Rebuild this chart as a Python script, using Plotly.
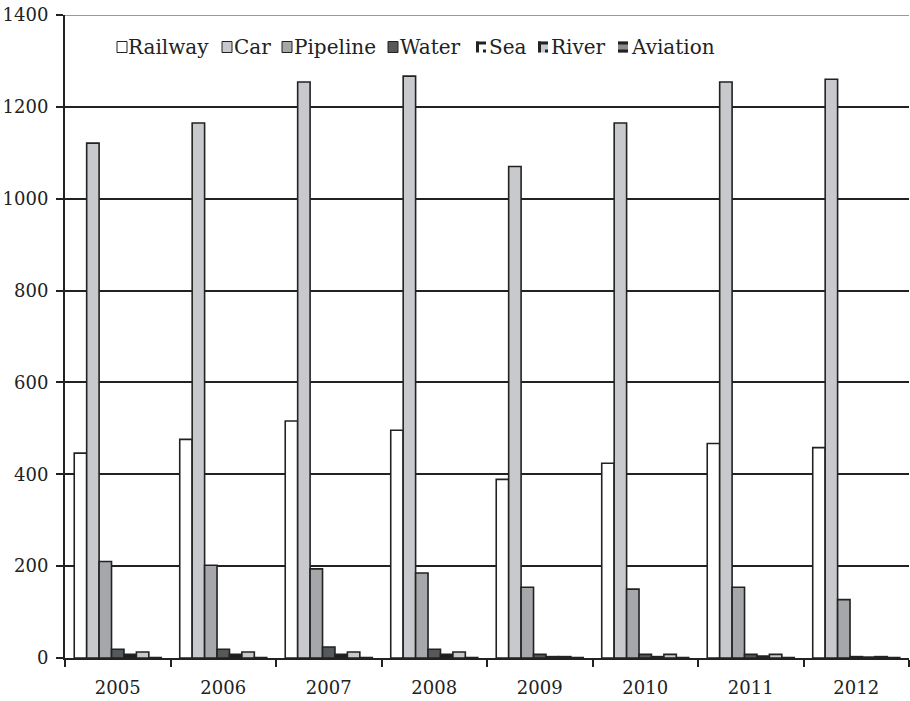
import plotly.graph_objects as go

# Freight turnover by mode of transport, 2005-2012
years = ["2005", "2006", "2007", "2008", "2009", "2010", "2011", "2012"]
railway = [446, 476, 516, 496, 389, 424, 467, 458]
car = [1121, 1165, 1254, 1267, 1070, 1165, 1254, 1260]
pipeline = [210, 202, 194, 185, 154, 150, 154, 127]
water = [19, 19, 24, 19, 8, 8, 8, 3]
sea = [8, 8, 8, 8, 3, 3, 4, 2]
river = [13, 13, 13, 13, 3, 8, 8, 3]
aviation = [1, 1, 1, 1, 1, 1, 1, 1]

series_names = ["Railway", "Car", "Pipeline", "Water", "Sea", "River", "Aviation"]
series_values = [railway, car, pipeline, water, sea, river, aviation]
fills = ["#ffffff", "#c8c9cd", "#a6a7ab", "#56595b", "#1e1e1e", "#c8c9cd", "#8c8d90"]

INK = "#222222"
FONT = "DejaVu Serif"

W, H = 910, 701
ML, MR, MT, MB = 65, 1, 15, 43
PW, PH = W - ML - MR, H - MT - MB


def px(x):
    return (x - ML) / PW


def py(y):
    return (H - MB - y) / PH


fig = go.Figure()
for name, vals, col in zip(series_names, series_values, fills):
    fig.add_trace(go.Bar(
        x=years, y=vals, name=name,
        marker=dict(color=col, line=dict(color=INK, width=1.6)),
        showlegend=False,
    ))

# Hand-drawn legend row: swatch + label for each series
sw_left = [117, 222, 282, 388, 476, 538, 618]
txt_left = [126, 232, 292, 398, 487, 549, 629]
sw_size = 11
leg_y = 47
shapes = []
annotations = []
for i, name in enumerate(series_names):
    x0, x1 = sw_left[i], sw_left[i] + sw_size - 1
    y0, y1 = leg_y - sw_size / 2, leg_y + sw_size / 2
    box = dict(type="rect", xref="paper", yref="paper",
               x0=px(x0), x1=px(x1), y0=py(y1), y1=py(y0))
    if name in ("Sea", "River"):
        shapes.append({**box, "fillcolor": fills[i] if name == "River" else "#ffffff",
                       "line": dict(width=0)})
        # thick top and left strokes, dot at lower right
        shapes.append(dict(type="rect", xref="paper", yref="paper",
                           x0=px(x0), x1=px(x1), y0=py(y0 + 3), y1=py(y0),
                           fillcolor=INK, line=dict(width=0)))
        shapes.append(dict(type="rect", xref="paper", yref="paper",
                           x0=px(x0), x1=px(x0 + 3), y0=py(y1), y1=py(y0),
                           fillcolor=INK, line=dict(width=0)))
        shapes.append(dict(type="rect", xref="paper", yref="paper",
                           x0=px(x1 - 3), x1=px(x1), y0=py(y1), y1=py(y1 - 3),
                           fillcolor=INK, line=dict(width=0)))
    elif name == "Aviation":
        shapes.append({**box, "fillcolor": fills[i], "line": dict(width=0)})
        shapes.append(dict(type="rect", xref="paper", yref="paper",
                           x0=px(x0), x1=px(x1), y0=py(y0 + 3), y1=py(y0),
                           fillcolor=INK, line=dict(width=0)))
        shapes.append(dict(type="rect", xref="paper", yref="paper",
                           x0=px(x0), x1=px(x1), y0=py(y1), y1=py(y1 - 3),
                           fillcolor=INK, line=dict(width=0)))
    else:
        shapes.append({**box, "fillcolor": fills[i], "line": dict(color=INK, width=1)})
    annotations.append(dict(
        text=name, xref="paper", yref="paper", x=px(txt_left[i]), y=py(leg_y),
        xanchor="left", yanchor="middle", showarrow=False,
        font=dict(family=FONT, size=20, color=INK),
    ))

# light top border at 1400, drawn over the dark gridline
shapes.append(dict(type="line", xref="paper", yref="y", x0=0, x1=1, y0=1400, y1=1400,
                   line=dict(color="#9a9a9a", width=2), layer="above"))

fig.update_layout(
    width=W, height=H,
    margin=dict(l=ML, r=MR, t=MT, b=MB),
    paper_bgcolor="white", plot_bgcolor="white",
    barmode="group", bargap=0.175, bargroupgap=0,
    font=dict(family=FONT, size=18, color=INK),
    shapes=shapes, annotations=annotations,
    xaxis=dict(
        type="category", showgrid=False, showline=True, linecolor=INK, linewidth=2,
        ticks="outside", tickson="boundaries", ticklen=7, tickwidth=2, tickcolor=INK,
        tickfont=dict(family=FONT, size=18, color=INK), ticklabelstandoff=12,
    ),
    yaxis=dict(
        range=[0, 1400], dtick=200, showgrid=True, gridcolor=INK, gridwidth=2,
        showline=True, linecolor=INK, linewidth=2, zeroline=False,
        ticks="outside", ticklen=7, tickwidth=2, tickcolor=INK,
        tickfont=dict(family=FONT, size=18, color=INK), ticklabelstandoff=4,
    ),
)

fig.write_html("out.html")
